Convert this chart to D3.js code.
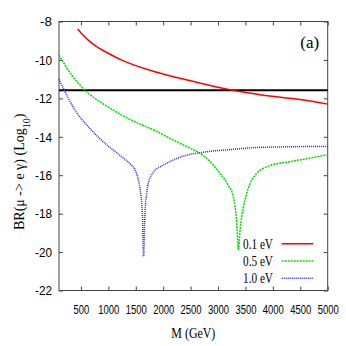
<!DOCTYPE html>
<html><head><meta charset="utf-8">
<script src="https://cdn.jsdelivr.net/npm/d3@7"></script>
<style>body{margin:0;background:#fff}svg{display:block}</style>
</head><body>
<script>
const xTicks = [500,1000,1500,2000,2500,3000,3500,4000,4500,5000];
const yTicks = [-8,-10,-12,-14,-16,-18,-20,-22];
const seriesNames = ["0.1 eV","0.5 eV","1.0 eV"];
const redM = [441, 520, 634, 780, 939, 1244, 1851, 2520, 3219, 3800, 4496, 5000];
const redV = [-8.39, -8.65, -8.97, -9.3, -9.56, -10.01, -10.62, -11.1, -11.55, -11.82, -12.06, -12.3];
const greenM = [100, 332, 574, 939, 1244, 1546, 1851, 2185, 2458, 2672, 2860, 3037, 3180, 3279, 3341, 3372, 3400, 3432, 3524, 3706, 3949, 4300, 4556, 5000];
const greenV = [-9.74, -10.79, -11.58, -12.35, -12.87, -13.3, -13.68, -14.17, -14.55, -14.86, -15.3, -15.9, -16.5, -17.12, -18.5, -19.9, -18.9, -18.16, -16.94, -15.9, -15.5, -15.3, -15.17, -14.93];
const blueM = [100, 209, 392, 634, 939, 1244, 1400, 1486, 1540, 1577, 1620, 1642, 1669, 1700, 1729, 1820, 1950, 2064, 2367, 2672, 3279, 3766, 5000];
const blueV = [-11.01, -11.65, -12.61, -13.48, -14.34, -15.04, -15.42, -15.72, -16.15, -16.7, -17.98, -20.24, -17.9, -16.94, -16.42, -15.85, -15.55, -15.38, -15.0, -14.83, -14.65, -14.55, -14.5];
const refLine = -11.58;

const W = 346, H = 346;
const m = {l:59, t:21.5, r:18.3, b:55.5};
const svg = d3.select("body").append("svg").attr("width", W).attr("height", H)
  .style("font-family", "'Liberation Serif','DejaVu Serif',serif");
const x = d3.scaleLinear().domain([100,5000]).range([m.l, W-m.r]);
const y = d3.scaleLinear().domain([-8,-22]).range([m.t, H-m.b]);

const frameColor = "#444";
function styleAxis(g){
  g.select(".domain").remove();
  g.selectAll("line").attr("stroke", frameColor);
  g.selectAll("text").attr("fill","#000");
}
svg.append("g").attr("transform",`translate(0,${y(-22)})`)
  .call(d3.axisBottom(x).tickValues(xTicks).tickSize(-4).tickPadding(14).tickFormat(d=>String(d)))
  .call(styleAxis).selectAll("text").style("font-size","13px")
  .attr("textLength", d=>String(d).length*5.25).attr("lengthAdjust","spacingAndGlyphs");
svg.append("g").attr("transform",`translate(0,${y(-8)})`)
  .call(d3.axisTop(x).tickValues(xTicks).tickSize(-4).tickFormat(""))
  .call(styleAxis);
svg.append("g").attr("transform",`translate(${x(100)},0)`)
  .call(d3.axisLeft(y).tickValues(yTicks).tickSize(-4).tickPadding(7).tickFormat(d=>String(d)))
  .call(styleAxis).selectAll("text").style("font-size","13.5px")
  .attr("textLength", d=>String(d).length===2?12:17).attr("lengthAdjust","spacingAndGlyphs");
svg.append("g").attr("transform",`translate(${x(5000)},0)`)
  .call(d3.axisRight(y).tickValues(yTicks).tickSize(-4).tickFormat(""))
  .call(styleAxis);

svg.append("rect").attr("x",x(100)).attr("y",y(-8)).attr("width",x(5000)-x(100)).attr("height",y(-22)-y(-8))
  .attr("fill","none").attr("stroke",frameColor).attr("stroke-width",1);

// reference line
svg.append("line").attr("x1",x(100)).attr("x2",x(5000)).attr("y1",y(refLine)).attr("y2",y(refLine))
  .attr("stroke","#000").attr("stroke-width",2);

const line = d3.line().x(d=>x(d[0])).y(d=>y(d[1])).curve(d3.curveMonotoneX);
const series = [
  {M:redM, V:redV, color:"#ff0000", dash:null},
  {M:greenM, V:greenV, color:"#00dd00", dash:"2,1"},
  {M:blueM, V:blueV, color:"#2222ff", dash:"1,1"}
];
series.forEach(s=>{
  svg.append("path").datum(s.M.map((mm,i)=>[mm,s.V[i]]))
    .attr("d",line).attr("fill","none").attr("stroke",s.color).attr("stroke-width",1.5)
    .attr("stroke-dasharray",s.dash);
});

// legend
const legY = [243.7, 261, 278.3];
series.forEach((s,i)=>{
  svg.append("text").attr("x",273).attr("y",legY[i]+5).attr("text-anchor","end")
    .style("font-size","15px").attr("textLength",30).attr("lengthAdjust","spacingAndGlyphs").text(seriesNames[i]);
  svg.append("line").attr("x1",281.7).attr("x2",313.3).attr("y1",legY[i]).attr("y2",legY[i])
    .attr("stroke",s.color).attr("stroke-width",1.5).attr("stroke-dasharray",s.dash);
});

svg.append("text").attr("x",309.7).attr("y",48).attr("text-anchor","middle").style("font-size","17px").text("(a)");

svg.append("text").attr("x",(x(100)+x(5000))/2).attr("y",338).attr("text-anchor","middle")
  .style("font-size","14px").attr("textLength",44).attr("lengthAdjust","spacingAndGlyphs").text("M (GeV)");

const yt = svg.append("text").attr("transform","translate(24,230) rotate(-90)").attr("text-anchor","start")
  .style("font-size","14px");
yt.append("tspan").text("BR(μ -> e γ) (Log");
yt.append("tspan").attr("baseline-shift","sub").style("font-size","10px").text("10");
yt.append("tspan").text(")");
</script>
</body></html>
